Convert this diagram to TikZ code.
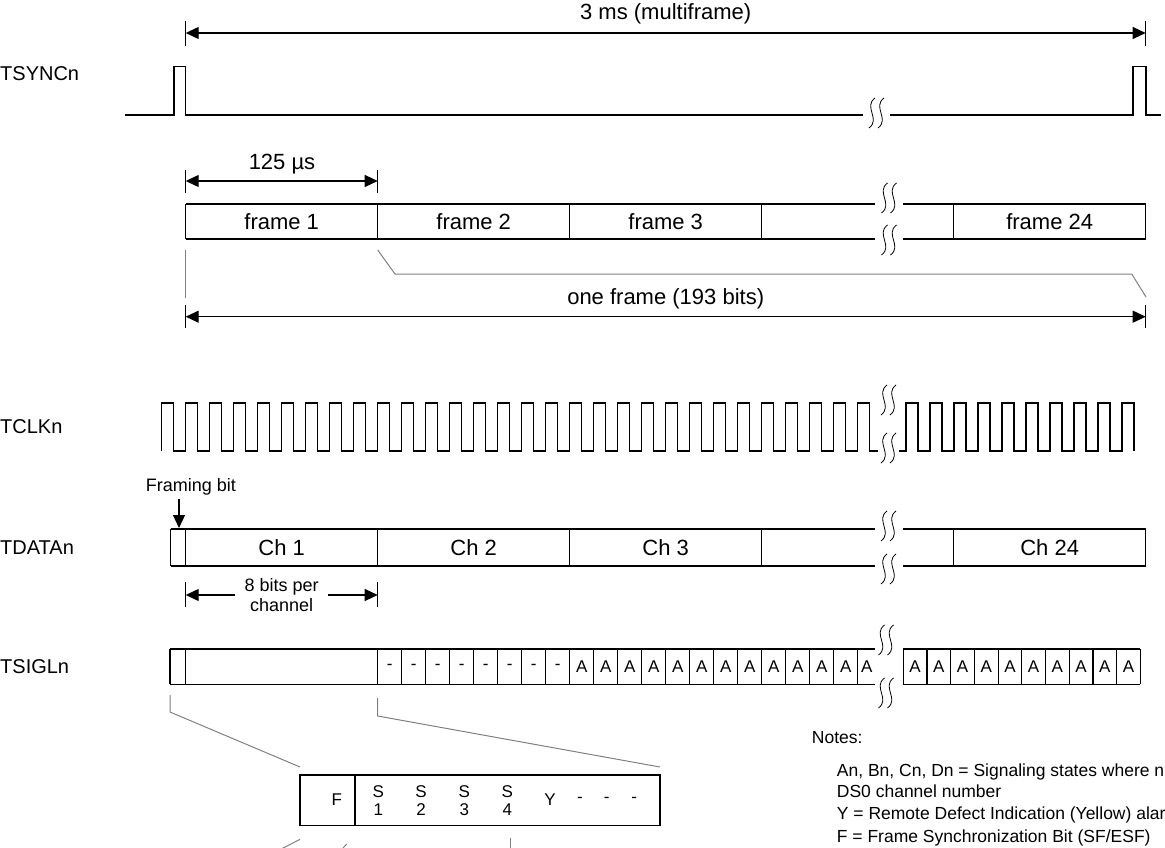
\documentclass[tikz,border=0pt]{standalone}
\usepackage{fontspec}
\setmainfont{Liberation Sans}
\usetikzlibrary{arrows.meta}
\tikzset{
	sig/.style={line width=1.2pt},
	dimline/.style={line width=1.2pt, <->},
	tick/.style={line width=1.2pt},
	guide/.style={line width=1pt, gray},
	lbl/.style={anchor=west, inner sep=0pt, font=\fontsize{20}{24}\selectfont},
	boxtext/.style={font=\fontsize{22}{26}\selectfont},
	small/.style={font=\fontsize{17}{18.5}\selectfont, align=center, inner sep=0pt},
	note/.style={anchor=west, inner sep=0pt, font=\fontsize{17.5}{20}\selectfont},
	squig/.pic={
		\foreach \dx in {-4.5,4.5}
		\draw[line width=0.8pt] (\dx+3,-15) .. controls (\dx-9,-6) and (\dx+9,6) .. (\dx-3,15);
	}
}
\begin{document}
\begin{tikzpicture}[x=1pt, y=-1pt, >={Triangle[length=13pt,width=12pt]},
	font=\fontsize{22}{26}\selectfont]
	\useasboundingbox (0,0) rectangle (1165,848);
	\clip (0,0) rectangle (1165,848);
	% signal names
	\node[lbl] (tsync) at (0,74) {TSYNCn};
	\node[lbl] (tclk) at (0,427) {TCLKn};
	\node[lbl] (tdata) at (0,547.5) {TDATAn};
	\node[lbl] (tsigl) at (0,667) {TSIGLn};
	% multiframe
	\foreach \x in {185.7,1145.7} \draw[tick] (\x,21)--(\x,46);
	\draw[dimline] (185.7,33)--(1145.7,33);
	\node (mf) at (665.7,14) {3 ms (multiframe)};
	\draw[sig] (125,115)--(174,115)--(174,66.7)--(185.7,66.7)--(185.7,115)--(863,115);
	\draw[sig] (890,115)--(1133,115)--(1133,66.7)--(1146,66.7)--(1146,115)--(1161,115);
	\pic at (876.5,113) {squig};
	% frames
	\foreach \x in {185.7,377.7} \draw[tick] (\x,170)--(\x,193);
	\draw[dimline] (185.7,181)--(377.7,181);
	\node (us) at (282,164) {125 µs};
	\draw[sig] (185.7,204)--(875,204) (903,204)--(1145.7,204)
		(185.7,239)--(875,239) (903,239)--(1145.7,239);
	\foreach \x in {185.7,377.7,569.7,761.7,953.7,1145.7} \draw[sig] (\x,204)--(\x,239);
	\foreach \x/\t [count=\i] in {281.7/frame 1,473.7/frame 2,665.7/frame 3,1049.7/frame 24}
	\node[boxtext] (fr\i) at (\x,221.5) {\t};
	\pic at (889,198) {squig};
	\pic at (889,240) {squig};
	\draw[guide] (185.7,250)--(185.7,298);
	\draw[guide] (377.7,250)--(395,274)--(1131.7,274)--(1146,297);
	\foreach \x in {185.7,1145.7} \draw[tick] (\x,305)--(\x,328);
	\draw[dimline] (185.7,316.7)--(1145.7,316.7);
	\node (ofr) at (665.7,299) {one frame (193 bits)};
	% clock
	\draw[sig] (161.7,451) \foreach \k in {0,...,28} {--++(0,-48)--++(12,0)--++(0,48)--++(12,0)}
		--++(0,-48)--++(12,0)--++(0,48)--(878,451);
	\draw[sig] (899,451)--(906,451) \foreach \k in {0,...,8} {--++(0,-48)--++(12,0)--++(0,48)--++(12,0)}
		--++(0,-48)--++(12,0)--++(0,48);
	\pic at (888.5,400) {squig};
	\pic at (888.5,448) {squig};
	% data
	\node[font=\fontsize{18}{22}\selectfont] (fb) at (191,487) {Framing bit};
	\coordinate (fbit) at (179,528);
	\draw[line width=1.2pt, ->] (fbit |- fb.south)--(fbit);
	\draw[sig] (170.7,529)--(875,529) (903,529)--(1145.7,529)
		(170.7,566)--(875,566) (903,566)--(1145.7,566);
	\foreach \x in {170.7,185.7,377.7,569.7,761.7,953.7,1145.7} \draw[sig] (\x,529)--(\x,566);
	\foreach \x/\t [count=\i] in {281.7/Ch 1,473.7/Ch 2,665.7/Ch 3,1049.7/Ch 24}
	\node[boxtext] (ch\i) at (\x,547.5) {\t};
	\pic at (888.5,526) {squig};
	\pic at (888.5,569) {squig};
	\foreach \x in {185.7,377.7} \draw[tick] (\x,582)--(\x,607);
	\node[font=\fontsize{18}{20}\selectfont, align=center, inner xsep=9pt] (bpc) at (281.7,595) {8 bits per\\channel};
	\coordinate (bl) at (185.7,595);
	\coordinate (br) at (377.7,595);
	\draw[line width=1.2pt, ->] (bpc.west)--(bl);
	\draw[line width=1.2pt, ->] (bpc.east)--(br);
	% signaling
	\draw[sig] (170,649)--(875,649) (170,684.3)--(875,684.3);
	\foreach \x in {170,185.7,377.7} \draw[sig] (\x,649)--(\x,684.3);
	\foreach \i in {1,...,20} \draw[sig] (377.7+24*\i,649)--(377.7+24*\i,684.3);
	\foreach \i in {0,...,7} \node[small] (sd\i) at (389.7+24*\i,666.7) {-};
	\foreach \i in {0,...,11} \node[small] (sa\i) at (581.7+24*\i,666.7) {A};
	\node[small] (sa12) at (866.7,666.7) {A};
	\draw[sig] (903.3,649)--(1140.3,649) (903.3,684.3)--(1140.3,684.3);
	\foreach \i in {0,...,10} \draw[sig] (903.3+23.7*\i,649)--(903.3+23.7*\i,684.3);
	\foreach \i in {0,...,9} \node[small] (sb\i) at (915.15+23.7*\i,666.7) {A};
	\pic at (886,640) {squig};
	\pic at (886,693) {squig};
	\draw[guide] (170,695)--(170,712)--(300,767);
	\draw[guide] (377.7,698)--(377.7,716)--(660,767);
	% bit detail
	\draw[sig] (300,775) rectangle (660,825.5) (355,775)--(355,825.5);
	\node[small] (bf) at (336.7,800) {F};
	\foreach \x/\n in {378.3/1,421/2,464.3/3,507.3/4}
	\node[small] (s\n) at (\x,800.5) {S\\\n};
	\node[small] (by) at (550,800) {Y};
	\foreach \x [count=\i] in {580,606.7,634.3} \node[small] (bd\i) at (\x,800) {-};
	\draw[guide] (264,858)--(300,839.3);
	\draw[guide] (334,858)--(346.7,844);
	\draw[guide] (510,838)--(510,858);
	% notes
	\node[note] (nt) at (811.7,738) {Notes:};
	\node[note] (n1) at (836.7,771.7) {An, Bn, Cn, Dn = Signaling states where n};
	\node[note] (n2) at (836.7,791.7) {DS0 channel number};
	\node[note] (n3) at (836.7,815) {Y = Remote Defect Indication (Yellow) alarm};
	\node[note] (n4) at (836.7,838.3) {F = Frame Synchronization Bit (SF/ESF)};
\end{tikzpicture}
\end{document}
